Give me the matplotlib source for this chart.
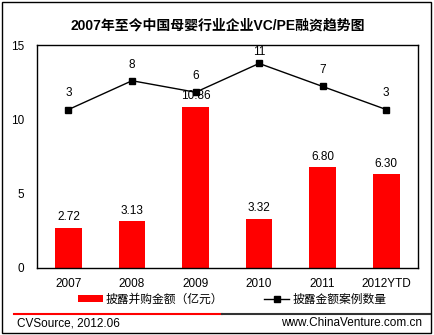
import matplotlib
matplotlib.use("Agg")
import matplotlib.pyplot as plt
from matplotlib.lines import Line2D
from matplotlib.patches import Rectangle

plt.rcParams["font.family"] = ["Liberation Sans", "Noto Sans CJK SC", "DejaVu Sans"]

# ── data ──────────────────────────────────────────────────────────────
years = ["2007", "2008", "2009", "2010", "2011", "2012YTD"]
amounts = [2.72, 3.13, 10.86, 3.32, 6.80, 6.30]   # 披露并购金额（亿元）
cases = [3, 8, 6, 11, 7, 3]                       # 披露金额案例数量

title = "2007年至今中国母婴行业企业VC/PE融资趋势图"
bar_label = "披露并购金额（亿元）"
line_label = "披露金额案例数量"
source_left = "CVSource, 2012.06"
source_right = "www.ChinaVenture.com.cn"

W, H = 435, 335
FS = 8.5
fig = plt.figure(figsize=(W / 100, H / 100), dpi=100, facecolor="white")


def fx(px):
    return px / W


def fy(py):
    return 1 - py / H


# plot area
ax = fig.add_axes([fx(36.7), fy(268), fx(418) - fx(36.7), fy(45) - fy(268)])
x = list(range(len(years)))
bars = ax.bar(x, amounts, width=0.42, color="#ff0000", zorder=2, label=bar_label)
ax.set_xlim(-0.5, len(years) - 0.5)
ax.set_ylim(0, 15)
ax.set_yticks([0, 5, 10, 15])
ax.set_xticks(x)
ax.set_xticklabels(years)
ax.tick_params(axis="both", length=0, labelsize=FS)
ax.tick_params(axis="y", pad=9)
ax.tick_params(axis="x", pad=7)
for s in ax.spines.values():
    s.set_linewidth(1.0)
    s.set_color("black")

for xi, v in zip(x, amounts):
    ax.annotate(f"{v:.2f}", (xi, v), xytext=(0, 3), textcoords="offset points",
                ha="center", va="bottom", fontsize=FS)

# case count on hidden secondary axis
ax2 = ax.twinx()
ax2.set_ylim(-24.5, 14.2)
ax2.axis("off")
ln, = ax2.plot(x, cases, color="black", lw=1.0, marker="s", markersize=4,
               zorder=3, label=line_label)
for xi, c in zip(x, cases):
    ax2.text(xi, min(c + 2.8, 13.0), str(c), ha="center", va="center", fontsize=FS)

# title
fig.text(0.5, fy(25), title, ha="center", va="center", fontsize=10, fontweight="bold")

# legend
fig.legend(handles=[bars, ln], labels=[bar_label, line_label],
           loc="center", bbox_to_anchor=(fx(232), fy(300)), ncol=2, frameon=False,
           fontsize=FS, handlelength=2.1, handleheight=0.5, handletextpad=0.25,
           columnspacing=3.5, borderpad=0)

# footer separator and source text
fig.add_artist(Line2D([fx(14), fx(222)], [fy(314), fy(314)], color="#ff0000", lw=1.5))
fig.add_artist(Line2D([fx(222), fx(430)], [fy(314), fy(314)], color="#333333", lw=1.5))
fig.text(fx(17), fy(323), source_left, ha="left", va="center", fontsize=FS)
fig.text(fx(422), fy(323), source_right, ha="right", va="center", fontsize=FS)

# outer border
fig.add_artist(Rectangle((fx(2), fy(333)), fx(431) - fx(2), fy(2) - fy(333),
                         fill=False, edgecolor="black", lw=1.0))

fig.savefig("out.png", dpi=100, facecolor="white")
